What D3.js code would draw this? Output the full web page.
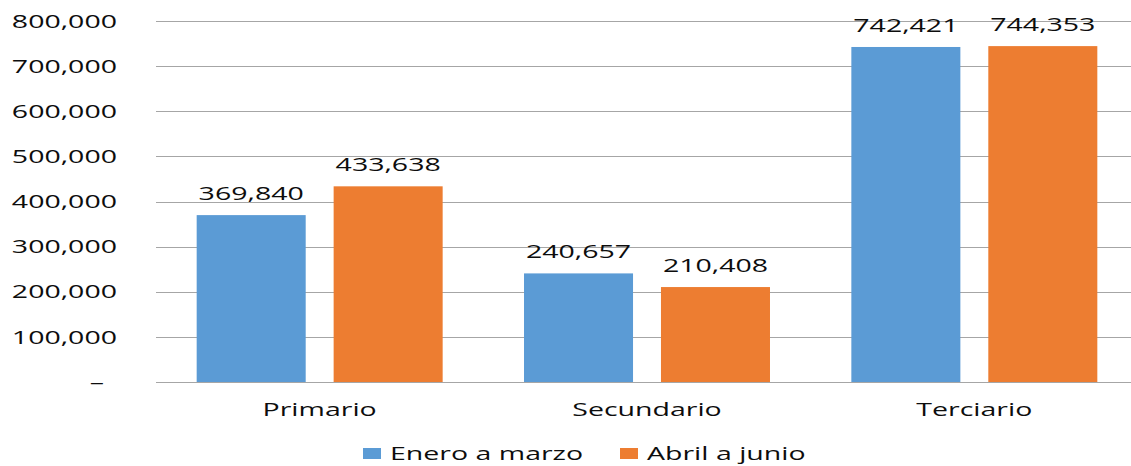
<!DOCTYPE html>
<html>
<head>
<meta charset="utf-8">
<style>
  body { margin: 0; background: #fff; }
  svg { display: block; }
  .lbl { font-family: 'Open Sans', sans-serif; font-size: 19px; fill: #0d0d0d; }
  .grid line { stroke: #a6a6a6; stroke-width: 1; }
</style>
</head>
<body>
<svg></svg>
<script src="https://d3js.org/d3.v7.min.js"></script>
<script>
'use strict';

// ========== data
const categories = ['Primario', 'Secundario', 'Terciario'];
const series_names = ['Enero a marzo', 'Abril a junio'];
const enero_marzo = [369840, 240657, 742421];
const abril_junio = [433638, 210408, 744353];
const y_ticks = [0, 100000, 200000, 300000, 400000, 500000, 600000, 700000, 800000];
const colors = ['#5B9BD5', '#ED7D31'];

const width = 1131, height = 466;
const margin = {top: 21, right: -7, bottom: 84, left: 156};
const sx = 1.5; // the text in the original is stretched sideways

const svg = d3.select('svg')
  .attr('width', width)
  .attr('height', height);

const x0 = d3.scaleBand()
  .domain(categories)
  .range([margin.left, width - margin.right])
  .paddingInner(0)
  .paddingOuter(0);

const x1 = d3.scaleBand()
  .domain(series_names)
  .range([0, x0.bandwidth()])
  .paddingInner(0.204)
  .paddingOuter(0.297);

const y = d3.scaleLinear()
  .domain([0, 800000])
  .range([height - margin.bottom, margin.top]);

const fmt = d3.format(',');

function stretched(sel, x, y) {
  return sel.attr('transform', 'translate(' + x + ',' + y + ') scale(' + sx + ',1)');
}

// grid
svg.append('g')
  .attr('class', 'grid')
  .selectAll('line')
  .data(y_ticks)
  .enter().append('line')
  .attr('x1', margin.left)
  .attr('x2', width)
  .attr('y1', function(d) { return Math.round(y(d)) + 0.5; })
  .attr('y2', function(d) { return Math.round(y(d)) + 0.5; });

// y labels
svg.append('g')
  .selectAll('text')
  .data(y_ticks)
  .enter().append('text')
  .attr('class', 'lbl')
  .attr('text-anchor', 'end')
  .attr('dy', '0.35em')
  .each(function(d) {
    stretched(d3.select(this), d === 0 ? 104 : 117, y(d));
  })
  .text(function(d) { return d === 0 ? '–' : fmt(d); });

// bars
const rows = categories.map(function(c, i) {
  return {cat: c, vals: [enero_marzo[i], abril_junio[i]]};
});

const group = svg.append('g')
  .selectAll('g')
  .data(rows)
  .enter().append('g')
  .attr('transform', function(d) { return 'translate(' + x0(d.cat) + ',0)'; });

const cells = group.selectAll('g')
  .data(function(d) {
    return d.vals.map(function(v, k) { return {name: series_names[k], v: v, k: k}; });
  })
  .enter().append('g');

cells.append('rect')
  .attr('x', function(d) { return x1(d.name); })
  .attr('width', x1.bandwidth())
  .attr('y', function(d) { return y(d.v); })
  .attr('height', function(d) { return y(0) - y(d.v); })
  .attr('fill', function(d) { return colors[d.k]; });

cells.append('text')
  .attr('class', 'lbl')
  .attr('text-anchor', 'middle')
  .each(function(d) {
    stretched(d3.select(this), x1(d.name) + x1.bandwidth() / 2, y(d.v) - 15);
  })
  .text(function(d) { return fmt(d.v); });

// category labels
svg.append('g')
  .selectAll('text')
  .data(categories)
  .enter().append('text')
  .attr('class', 'lbl')
  .attr('text-anchor', 'middle')
  .each(function(d) {
    stretched(d3.select(this), x0(d) + x0.bandwidth() / 2, 416);
  })
  .text(function(d) { return d; });

// legend
const legend_x = [363, 620];
const legend = svg.append('g')
  .selectAll('g')
  .data(series_names)
  .enter().append('g')
  .attr('transform', function(d, i) { return 'translate(' + legend_x[i] + ',448)'; });

legend.append('rect')
  .attr('width', 18)
  .attr('height', 11)
  .attr('fill', function(d, i) { return colors[i]; });

legend.append('text')
  .attr('class', 'lbl')
  .each(function() { stretched(d3.select(this), 27, 12); })
  .text(function(d) { return d; });
</script>
</body>
</html>
